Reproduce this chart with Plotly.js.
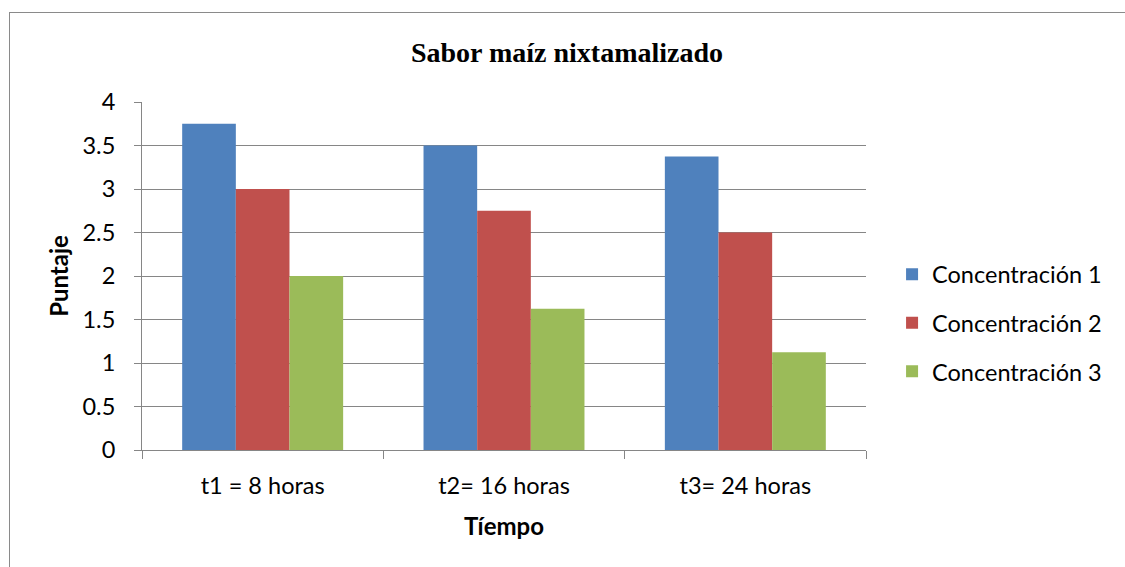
<!DOCTYPE html>
<html>
<head>
<meta charset="utf-8">
<script src="https://cdn.plot.ly/plotly-3.0.1.min.js"></script>
<style>
  html, body { margin: 0; padding: 0; background: #fff; }
  #wrap { position: relative; width: 1125px; height: 567px; overflow: hidden; }
  #frame { position: absolute; left: 9px; top: 12px; width: 1130px; height: 570px; border: 1px solid #8a8a8a; box-sizing: border-box; pointer-events: none; }
  #chart { position: absolute; left: 0; top: 0; width: 1125px; height: 567px; }
</style>
</head>
<body>
<div id="wrap">
  <div id="chart"></div>
  <div id="frame"></div>
</div>
<script>
const categories = ["t1 = 8 horas", "t2= 16 horas", "t3= 24 horas"];
const seriesNames = ["Concentración 1", "Concentración 2", "Concentración 3"];
const conc1 = [3.75, 3.5, 3.375];
const conc2 = [3.0, 2.75, 2.5];
const conc3 = [2.0, 1.625, 1.125];
const colors = ["#4F81BD", "#C0504D", "#9BBB59"];
const yTicks = [0, 0.5, 1, 1.5, 2, 2.5, 3, 3.5, 4];
const yTickText = ["0", "0.5", "1", "1.5", "2", "2.5", "3", "3.5", "4"];

const allSeries = [conc1, conc2, conc3];
const font = "Lato, 'Open Sans', sans-serif";

const data = allSeries.map((vals, i) => ({
  type: "bar",
  x: categories,
  y: vals,
  name: seriesNames[i],
  legendgroup: "g" + i,
  marker: { color: colors[i], line: { width: 0 } },
  hoverinfo: "x+y+name"
}));

const layout = {
  width: 1125,
  height: 567,
  margin: { l: 142, r: 259, t: 102, b: 117 },
  paper_bgcolor: "#ffffff",
  plot_bgcolor: "#ffffff",
  barmode: "group",
  bargap: 0.333,
  bargroupgap: 0,
  title: {
    text: "<b>Sabor maíz nixtamalizado</b>",
    font: { family: "'Liberation Serif', 'Times New Roman', serif", size: 28, color: "#000" },
    x: 0.504,
    xanchor: "center",
    y: 0.908,
    yanchor: "middle"
  },
  xaxis: {
    type: "category",
    tickson: "boundaries",
    ticks: "outside",
    ticklen: 8,
    tickcolor: "#868686",
    tickwidth: 1,
    ticklabelstandoff: 15,
    showline: true,
    linecolor: "#868686",
    linewidth: 1,
    showgrid: false,
    tickfont: { family: font, size: 23.5, color: "#000" },
    title: { text: "<b>Tíempo</b>", font: { family: font, size: 24, color: "#000" }, standoff: 19 }
  },
  yaxis: {
    range: [0, 4],
    tickvals: yTicks,
    ticktext: yTickText,
    ticks: "outside",
    ticklen: 7,
    tickcolor: "#868686",
    ticklabelstandoff: 14,
    showline: true,
    linecolor: "#868686",
    linewidth: 1,
    showgrid: true,
    gridcolor: "#868686",
    gridwidth: 1,
    zeroline: false,
    tickfont: { family: font, size: 23.5, color: "#000" },
    title: { text: "<b>Puntaje</b>", font: { family: font, size: 24, color: "#000" }, standoff: 7 }
  },
  legend: {
    x: 1.036,
    xanchor: "left",
    y: 0.365,
    yanchor: "middle",
    font: { family: font, size: 23.5, color: "#000" },
    traceorder: "grouped",
    tracegroupgap: 15,
    itemwidth: 30,
    bgcolor: "rgba(0,0,0,0)"
  },
  showlegend: true
};

Plotly.newPlot("chart", data, layout, { displayModeBar: false, staticPlot: true });
</script>
</body>
</html>
